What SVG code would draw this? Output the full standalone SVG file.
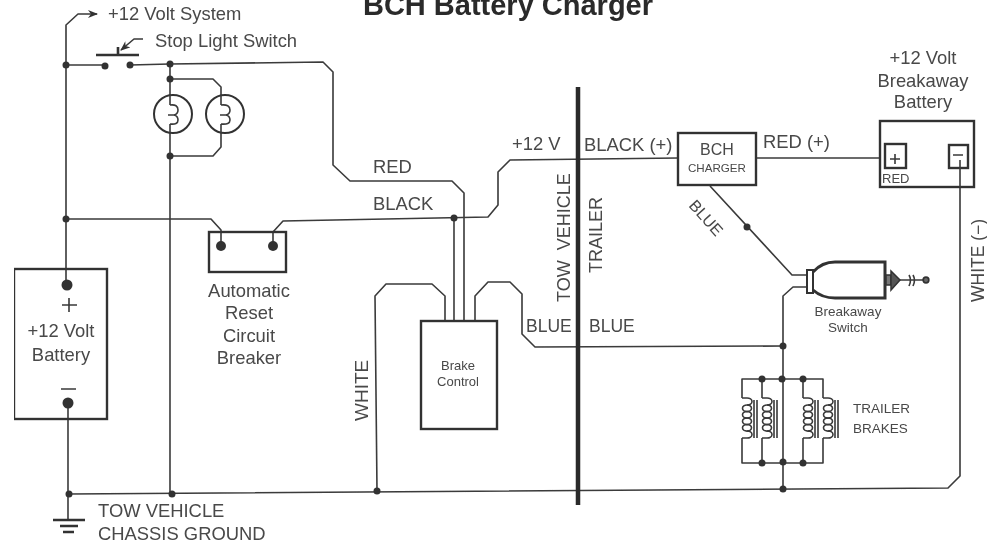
<svg xmlns="http://www.w3.org/2000/svg" width="987" height="543" viewBox="0 0 987 543">
<style>
text{font-family:"Liberation Sans",Arial,sans-serif;fill:#484848;font-size:18.400px}
.m{text-anchor:middle}
.x{font-size:13px}
.w{fill:none;stroke:#3a3a3a;stroke-width:1.600;stroke-linejoin:round}
.b{fill:none;stroke:#333;stroke-width:2.600}
.d{fill:#333}
</style>
<defs>
<filter id="scan" x="0" y="0" width="100%" height="100%"><feGaussianBlur stdDeviation="0.450"/></filter>
<marker id="arr" markerWidth="10" markerHeight="8" refX="9" refY="4" orient="auto" markerUnits="userSpaceOnUse"><path d="M0 0L10 4L0 8L3 4Z" fill="#333"/></marker>
<g id="coil"><path class="w" d="M0 0h5a5 3.500 0 0 1 0 7M5 33a5 3.500 0 0 1 0 7h-5"/><ellipse class="w" cx="5" cy="10.300" rx="4.500" ry="3.300"/><ellipse class="w" cx="5" cy="16.800" rx="4.500" ry="3.300"/><ellipse class="w" cx="5" cy="23.300" rx="4.500" ry="3.300"/><ellipse class="w" cx="5" cy="29.800" rx="4.500" ry="3.300"/></g>
</defs>
<rect width="987" height="543" fill="#fff"/>
<g filter="url(#scan)">
<text x="508" y="15" class="m" style="font-size:29px;font-weight:bold;fill:#2a2a2a">BCH Battery Charger</text>
<g id="connectors">
<path class="w" d="M66 285V25L78 14H97" marker-end="url(#arr)"/>
<path class="w" d="M66 65H105"/>
<path class="w" d="M130 65L170 64L323 62L333 72V165L350 181H452L464 193V321"/>
<path class="w" d="M170 64V494"/>
<path class="w" d="M170 79H213L221 87V147L213 156H170"/>
<path class="w" d="M66 219H211L221 230V246"/>
<path class="w" d="M273 246V232L283 221L488 217L498 205V172L510 160L678 158"/>
<path class="w" d="M454 218V321"/>
<path class="w" d="M68 403V520"/>
<path class="w" d="M69 494L948 488L960 476V160"/>
<path class="w" d="M377 491L375 296L386 284H432L445 296V321"/>
<path class="w" d="M475 321V296L488 282H510L522 294V334L535 347L783 346"/>
<path class="w" d="M756 158H880"/>
<path class="w" d="M710 186L792 275H806"/>
<path class="w" d="M806 287H793L783 296V489"/>
<path class="w" d="M742 398V379H823V398M742 438V463H823V438M762 379V398M762 438V463M803 379V398M803 438V463"/>
<path d="M143 39H134L121 50" class="w" marker-end="url(#arr)"/>
<circle class="d" cx="66" cy="65" r="3.500"/>
<circle class="d" cx="170" cy="64" r="3.500"/>
<circle class="d" cx="170" cy="79" r="3.500"/>
<circle class="d" cx="170" cy="156" r="3.500"/>
<circle class="d" cx="454" cy="218" r="3.500"/>
<circle class="d" cx="747" cy="227" r="3.500"/>
<circle class="d" cx="783" cy="346" r="3.500"/>
<circle class="d" cx="762" cy="379" r="3.500"/>
<circle class="d" cx="782" cy="379" r="3.500"/>
<circle class="d" cx="803" cy="379" r="3.500"/>
<circle class="d" cx="762" cy="463" r="3.500"/>
<circle class="d" cx="783" cy="462" r="3.500"/>
<circle class="d" cx="803" cy="463" r="3.500"/>
<circle class="d" cx="69" cy="494" r="3.500"/>
<circle class="d" cx="172" cy="494" r="3.500"/>
<circle class="d" cx="377" cy="491" r="3.500"/>
<circle class="d" cx="783" cy="489" r="3.500"/>
<circle class="d" cx="66" cy="219" r="3.500"/>
</g>
<g id="divider"><path d="M578 87V505" stroke="#2a2a2a" stroke-width="4.500" fill="none"/></g>
<g id="system-label"><text x="108" y="20">+12 Volt System</text></g>
<g id="stop-switch">
<circle class="d" cx="105" cy="66" r="3.500"/><circle class="d" cx="130" cy="65" r="3.500"/>
<path class="b" d="M96 55H139M118 55V47"/>
<text x="155" y="47">Stop Light Switch</text>
</g>
<g id="lamp-1"><circle cx="173" cy="114" r="19" fill="#fff" stroke="#333" stroke-width="2"/><path class="w" d="M170 95V105M170 124V133M170 105Q178 104 178 110Q178 114 174 115Q178 116 178 120Q178 125 170 124M168 115H176"/></g>
<g id="lamp-2"><circle cx="225" cy="114" r="19" fill="#fff" stroke="#333" stroke-width="2"/><path class="w" d="M221 95V105M221 124V133M221 105Q230 104 230 110Q230 114 226 115Q230 116 230 120Q230 125 221 124M220 115H228"/></g>
<g id="circuit-breaker">
<rect x="209" y="232" width="77" height="40" fill="none" stroke="#333" stroke-width="2.400"/>
<circle class="d" cx="221" cy="246" r="5"/><circle class="d" cx="273" cy="246" r="5"/>
<text class="m" x="249" y="297">Automatic</text><text class="m" x="249" y="319">Reset</text><text class="m" x="249" y="342">Circuit</text><text class="m" x="249" y="364">Breaker</text>
</g>
<g id="battery">
<rect x="14" y="269" width="93" height="150" fill="none" stroke="#333" stroke-width="2.400"/>
<circle class="d" cx="67" cy="285" r="5.500"/><circle class="d" cx="68" cy="403" r="5.500"/>
<path class="w" d="M62 305H77M69 298V312M61 389H76"/>
<text class="m" x="61" y="337">+12 Volt</text><text class="m" x="61" y="361">Battery</text>
</g>
<g id="ground">
<path class="b" stroke-width="2" d="M53 520H85M60 526H78M63 532H74"/>
<text x="98" y="517">TOW VEHICLE</text><text x="98" y="540">CHASSIS GROUND</text>
</g>
<g id="brake-control">
<rect x="421" y="321" width="76" height="108" fill="#fff" stroke="#333" stroke-width="2.400"/>
<text class="m x" x="458" y="370">Brake</text><text class="m x" x="458" y="386">Control</text>
</g>
<g id="bch-charger">
<rect x="678" y="133" width="78" height="52" fill="none" stroke="#333" stroke-width="2.400"/>
<text class="m" style="font-size:16px" x="717" y="155">BCH</text><text class="m" style="font-size:11.600px" x="717" y="172">CHARGER</text>
</g>
<g id="breakaway-battery">
<rect x="880" y="121" width="94" height="66" fill="#fff" stroke="#333" stroke-width="2.400"/>
<rect x="885" y="144" width="21" height="24" fill="none" stroke="#333" stroke-width="2.400"/>
<rect x="949" y="145" width="19" height="23" fill="none" stroke="#333" stroke-width="2.400"/>
<path class="w" d="M890 159H900M895 154V164M953 155H963M960 160V187"/>
<text class="x" x="882" y="183">RED</text>
<text class="m" x="923" y="64">+12 Volt</text><text class="m" x="923" y="87">Breakaway</text><text class="m" x="923" y="108">Battery</text>
</g>
<g id="breakaway-switch">
<path d="M813 272Q822 262 835 262H885V298H835Q822 298 813 290" fill="#fff" stroke="#333" stroke-width="3"/>
<rect x="807" y="270" width="6" height="23" fill="#fff" stroke="#333" stroke-width="2"/>
<path d="M886 275H891V285H886Z" fill="#777" stroke="#333" stroke-width="1.500"/>
<path d="M891 271L900 280L891 290Z" fill="#555" stroke="#333" stroke-width="1.500"/>
<path class="w" d="M900 280H926M909 275Q912 280 909 286M913 275Q916 280 913 286"/>
<circle cx="926" cy="280" r="2.800" fill="#666" stroke="#333" stroke-width="1.700"/>
<text class="m" style="font-size:13.500px" x="848" y="316">Breakaway</text><text class="m" style="font-size:13.500px" x="848" y="332">Switch</text>
</g>
<g id="trailer-brakes">
<use href="#coil" x="742" y="398"/><use href="#coil" x="762" y="398"/><use href="#coil" x="803" y="398"/><use href="#coil" x="823" y="398"/>
<path class="w" stroke-width="1.200" d="M754 400V438M757 400V438M774 400V438M777 400V438M815 400V438M818 400V438M835 400V438M838 400V438"/>
<text x="853" y="413" style="font-size:13.500px">TRAILER</text><text x="853" y="433" style="font-size:13.500px">BRAKES</text>
</g>
<g id="labels">
<text x="373" y="173">RED</text>
<text x="373" y="210">BLACK</text>
<text x="512" y="150">+12 V</text>
<text x="584" y="151">BLACK (+)</text>
<text x="763" y="148">RED (+)</text>
<text transform="rotate(-90 570 302)" x="570" y="302" style="white-space:pre;font-size:18px">TOW  VEHICLE</text>
<text transform="rotate(-90 602 273)" x="602" y="273" style="font-size:18px">TRAILER</text>
<text x="526" y="332" style="font-size:17.500px">BLUE</text>
<text x="589" y="332" style="font-size:17.500px">BLUE</text>
<text transform="rotate(-90 368 421)" x="368" y="421" style="font-size:19px">WHITE</text>
<text transform="rotate(-90 984 302)" x="984" y="302" style="font-size:17.500px">WHITE (−)</text>
<text transform="rotate(48 688 206)" x="688" y="206" style="font-size:16px">BLUE</text>
</g>
</g>
</svg>
